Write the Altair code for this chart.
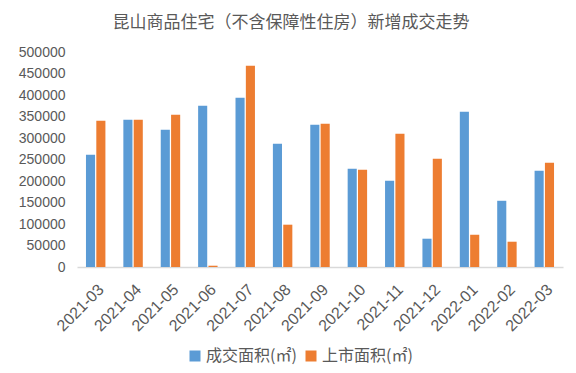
import altair as alt
import pandas as pd

months = ["2021-03", "2021-04", "2021-05", "2021-06", "2021-07", "2021-08", "2021-09",
          "2021-10", "2021-11", "2021-12", "2022-01", "2022-02", "2022-03"]
deal_area = [261000, 342500, 319000, 375000, 393700, 286700, 331000,
             228600, 200700, 65800, 361000, 154000, 224000]
supply_area = [340000, 342500, 354000, 3000, 468000, 98400, 333000,
               226000, 310000, 251900, 75000, 58800, 242600]
series_names = ["成交面积(㎡)", "上市面积(㎡)"]
colors = ["#5B9BD5", "#ED7D31"]

rows = []
for m, d, s in zip(months, deal_area, supply_area):
    rows.append({"month": m, "series": series_names[0], "value": d})
    rows.append({"month": m, "series": series_names[1], "value": s})
df = pd.DataFrame(rows)

FONT = "Noto Sans CJK SC"

chart = alt.Chart(df).mark_bar().encode(
    x=alt.X("month:N", sort=months,
            scale=alt.Scale(paddingInner=0.48, paddingOuter=0.24),
            axis=alt.Axis(title=None, labelAngle=-45, labelFontSize=16,
                          labelColor="#595959", labelFont="Liberation Sans",
                          ticks=False, domainColor="#D9D9D9", domainWidth=1.5,
                          labelPadding=14)),
    xOffset=alt.XOffset("series:N", sort=series_names,
                        scale=alt.Scale(paddingInner=0.12)),
    y=alt.Y("value:Q", scale=alt.Scale(domain=[0, 500000], nice=False),
            axis=alt.Axis(title=None, values=list(range(0, 500001, 50000)),
                          format="d",
                          grid=False, domain=False, ticks=False,
                          labelFontSize=14, labelColor="#595959",
                          labelFont="Liberation Sans", labelPadding=12)),
    color=alt.Color("series:N", sort=series_names,
                    scale=alt.Scale(domain=series_names, range=colors),
                    legend=alt.Legend(title=None, orient="none", direction="horizontal",
                                      legendX=110, legendY=296,
                                      symbolType="square", symbolSize=121,
                                      labelFontSize=16, labelColor="#595959",
                                      labelFont=FONT, columnPadding=6,
                                      symbolStrokeWidth=0, labelOffset=3)),
).properties(
    width=486, height=215,
    title=alt.Title("昆山商品住宅（不含保障性住房）新增成交走势", fontSize=17,
                    font=FONT, fontWeight="normal", color="#595959",
                    dx=-29, offset=13),
    autosize=alt.AutoSizeParams(type="none"),
    padding={"left": 69, "top": 44, "right": 5, "bottom": 98},
).configure_view(stroke=None)

chart.save("out.html", embed_options={"renderer": "svg", "actions": False})
